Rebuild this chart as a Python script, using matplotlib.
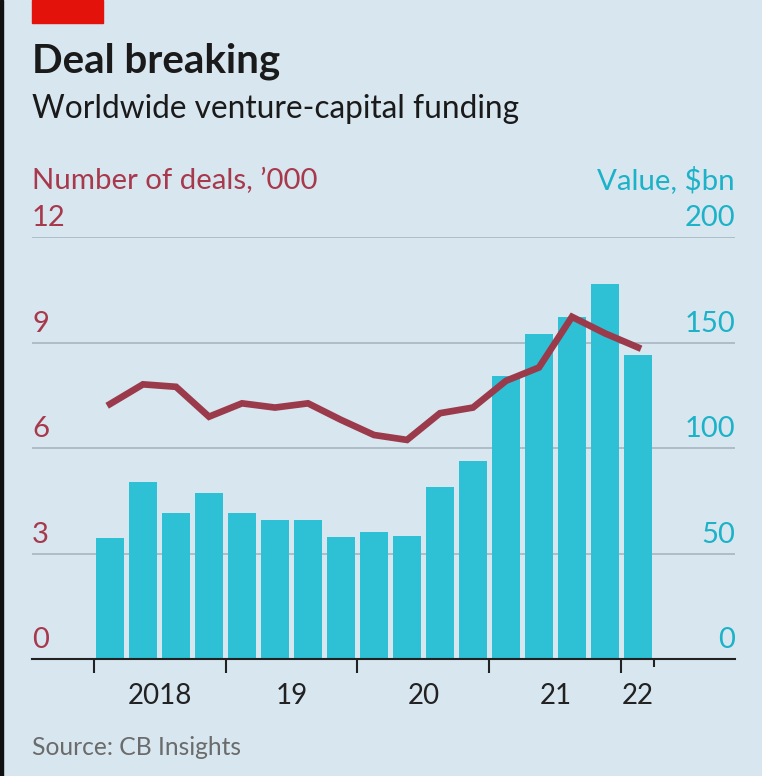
import matplotlib.pyplot as plt
from matplotlib.patches import Rectangle

# quarterly data, 2018 Q1 - 2022 Q1
quarters = ['2018Q1', '2018Q2', '2018Q3', '2018Q4', '2019Q1', '2019Q2', '2019Q3', '2019Q4',
            '2020Q1', '2020Q2', '2020Q3', '2020Q4', '2021Q1', '2021Q2', '2021Q3', '2021Q4',
            '2022Q1']
value_bn = [57.5, 83.7, 69.3, 78.8, 69.2, 65.9, 65.9, 58.0, 60.3, 58.5, 81.5, 94.0,
            134.3, 154.0, 162.1, 177.9, 143.9]
deals_k = [7.25, 7.81, 7.74, 6.89, 7.27, 7.15, 7.27, 6.80, 6.37, 6.23, 6.99, 7.15,
           7.91, 8.29, 9.73, 9.26, 8.86]
year_labels = ['2018', '19', '20', '21', '22']
year_pos = [1.5, 5.5, 9.5, 13.5, 16]
left_ticks = [0, 3, 6, 9, 12]
right_ticks = [0, 50, 100, 150, 200]

bg = '#d7e6ef'
bar_col = '#2ec0d4'
line_col = '#9a3a4b'
left_col = '#a8384c'
right_col = '#1cb2c8'
grid_col = '#adbcc6'
font = 'Lato'

W, H = 762, 776
fig = plt.figure(figsize=(W / 100, H / 100), dpi=100)
fig.patch.set_facecolor(bg)

# red tag and dark left edge
fig.patches.append(Rectangle((32 / W, 1 - 23 / H), 71 / W, 23 / H, transform=fig.transFigure,
                             color='#e3120b', zorder=5))
fig.patches.append(Rectangle((0, 0), 3 / W, 1, transform=fig.transFigure, color='#111111', zorder=5))

fig.text(32 / W, 1 - 73 / H, 'Deal breaking', fontsize=29, fontweight='bold', family=font,
         color='#1a1a1a', va='baseline')
fig.text(32 / W, 1 - 118 / H, 'Worldwide venture-capital funding', fontsize=22.8, family=font,
         color='#1a1a1a', va='baseline')
fig.text(32 / W, 1 - 189 / H, 'Number of deals, \u2019000', fontsize=21.2, family=font,
         color=left_col, va='baseline')
fig.text(735 / W, 1 - 189 / H, 'Value, $bn', fontsize=21.2, family=font,
         color=right_col, va='baseline', ha='right')
fig.text(32 / W, 1 - 755 / H, 'Source: CB Insights', fontsize=17.7, family=font,
         color='#6b6b6b', va='baseline')

ax = fig.add_axes([32 / W, 1 - 659 / H, 703 / W, 422 / H])
ax.set_facecolor('none')
ax2 = ax.twinx()

x = list(range(len(quarters)))
ax2.bar(x, value_bn, width=0.85, color=bar_col, zorder=2)
ax2.set_ylim(0, 200)
ax.set_ylim(0, 12)
ax.set_xlim(-2.364, 18.94)

ax.set_zorder(ax2.get_zorder() + 1)
ax.patch.set_visible(False)
ax.plot(x, deals_k, color=line_col, lw=4.8, solid_joinstyle='miter', zorder=3)

ax2.set_zorder(0)
for v in right_ticks[1:]:
    ax2.axhline(v, color=grid_col, lw=1.4, zorder=0)

for a in (ax, ax2):
    for s in a.spines.values():
        s.set_visible(False)
    a.set_yticks([])
ax.spines['bottom'].set_visible(True)
ax.spines['bottom'].set_color('#222222')
ax.spines['bottom'].set_linewidth(1.5)

for lv, rv in zip(left_ticks, right_ticks):
    ax.text(0, lv + 0.16, str(lv), transform=ax.get_yaxis_transform(), fontsize=21,
            family=font, color=left_col, va='bottom', ha='left')
    ax2.text(1, rv + 2.7, str(rv), transform=ax2.get_yaxis_transform(), fontsize=21,
             family=font, color=right_col, va='bottom', ha='right')

ax.set_xticks([-0.5, 3.5, 7.5, 11.5, 15.5])
ax.set_xticks([16.5], minor=True)
ax.tick_params(axis='x', which='major', length=10, width=1.5, color='#222222', labelbottom=False)
ax.tick_params(axis='x', which='minor', length=6, width=1.5, color='#222222')
ax2.tick_params(axis='x', length=0, labelbottom=False)
for p, lab in zip(year_pos, year_labels):
    ax.text(p, -24 / 35.17, lab, fontsize=20, family=font, color='#222222',
            ha='center', va='top', clip_on=False)

fig.savefig('out.png', dpi=100, facecolor=bg)
